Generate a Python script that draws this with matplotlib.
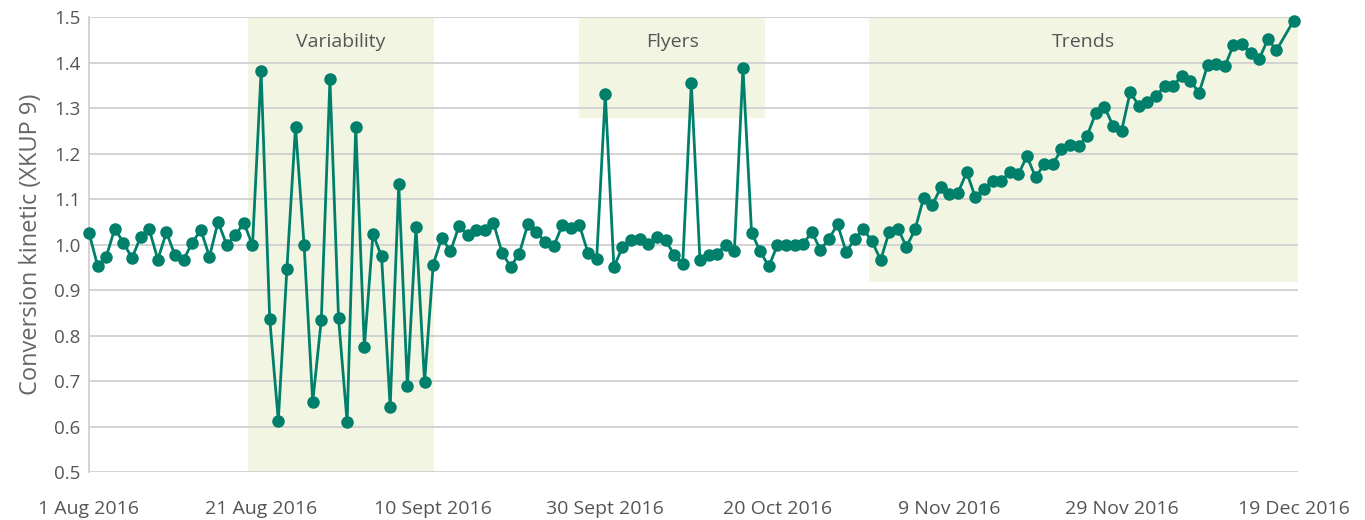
import numpy as np
import pandas as pd
import matplotlib
matplotlib.use("Agg")
import matplotlib.pyplot as plt

plt.rcParams["font.family"] = ["Open Sans", "DejaVu Sans"]

# daily readings, 1 Aug - 17 Dec 2016, plus 19 Dec (18 Dec missing)
dates = list(pd.date_range("2016-08-01", "2016-12-17", freq="D")) + [pd.Timestamp("2016-12-19")]

values = [
    # 1 - 20 Aug
    1.026, 0.953, 0.973, 1.035, 1.004, 0.970, 1.017, 1.033, 0.967, 1.027,
    0.976, 0.967, 1.004, 1.032, 0.973, 1.050, 0.999, 1.020, 1.048, 0.998,
    # 21 Aug - 10 Sept
    1.381, 0.837, 0.613, 0.947, 1.259, 0.998, 0.654, 0.835, 1.363, 0.838,
    0.609, 1.259, 0.774, 1.023, 0.974, 0.643, 1.132, 0.689, 1.038, 0.697, 0.956,
    # 11 - 29 Sept
    1.015, 0.985, 1.040, 1.020, 1.031, 1.031, 1.048, 0.982, 0.951, 0.980,
    1.044, 1.027, 1.006, 0.996, 1.042, 1.037, 1.042, 0.981, 0.969,
    # 30 Sept - 20 Oct
    1.331, 0.950, 0.995, 1.009, 1.012, 1.001, 1.017, 1.009, 0.978, 0.958,
    1.354, 0.966, 0.978, 0.979, 1.000, 0.985, 1.388, 1.026, 0.985, 0.952, 0.998,
    # 21 - 31 Oct
    1.000, 0.998, 1.001, 1.028, 0.988, 1.013, 1.044, 0.983, 1.013, 1.033, 1.007,
    # 1 - 24 Nov
    0.966, 1.028, 1.035, 0.995, 1.033, 1.103, 1.086, 1.126, 1.110, 1.114,
    1.159, 1.104, 1.123, 1.140, 1.140, 1.159, 1.154, 1.194, 1.148, 1.176,
    1.176, 1.209, 1.218, 1.216,
    # 25 Nov - 17 Dec
    1.239, 1.289, 1.303, 1.261, 1.250, 1.335, 1.305, 1.313, 1.326, 1.348,
    1.349, 1.371, 1.360, 1.333, 1.394, 1.397, 1.392, 1.438, 1.440, 1.420,
    1.408, 1.451, 1.427,
    # 19 Dec
    1.492,
]

tick_dates = pd.date_range("2016-08-01", periods=8, freq="20D")
tick_labels = ["1 Aug 2016", "21 Aug 2016", "10 Sept 2016", "30 Sept 2016",
               "20 Oct 2016", "9 Nov 2016", "29 Nov 2016", "19 Dec 2016"]

# highlighted regions: label, start, end, lower value
region_labels = ["Variability", "Flyers", "Trends"]
region_start = ["2016-08-19 12:00", "2016-09-27 00:00", "2016-10-30 15:30"]
region_end = ["2016-09-10 02:30", "2016-10-18 14:30", "2016-12-19 12:00"]
region_low = [0.5, 1.278, 0.918]

LINE_COLOR = "#007f6b"
SHADE_COLOR = "#f3f5e3"
GRID_COLOR = "#d0d0d0"
TEXT_COLOR = "#555555"

fig = plt.figure(figsize=(13.65, 5.2), dpi=100)
ax = fig.add_axes([0.0652, 0.0923, 0.8857, 0.8750])

for label, s, e, low in zip(region_labels, region_start, region_end, region_low):
    s, e = pd.Timestamp(s), pd.Timestamp(e)
    ax.fill_between([s, e], [low, low], [1.5, 1.5], color=SHADE_COLOR, lw=0, zorder=0)
    ax.text(s + (e - s) / 2, 1.446, label, ha="center", va="center",
            fontsize=14, color=TEXT_COLOR, zorder=3)

ax.plot(dates, values, color=LINE_COLOR, lw=2, marker="o", markersize=8,
        zorder=4, clip_on=False)

ax.set_ylim(0.5, 1.5)
ax.set_xlim(pd.Timestamp("2016-08-01"), pd.Timestamp("2016-12-19 12:00"))
ax.set_yticks(np.arange(0.5, 1.51, 0.1))
ax.set_yticklabels([f"{v:.1f}" for v in np.arange(0.5, 1.51, 0.1)])
ax.set_xticks(tick_dates)
ax.set_xticklabels(tick_labels)

for v in np.arange(0.5, 1.51, 0.1):
    ax.axhline(v, color=GRID_COLOR, lw=1.3, zorder=1)

for side in ["top", "right", "bottom"]:
    ax.spines[side].set_visible(False)
ax.spines["left"].set_color(GRID_COLOR)
ax.spines["left"].set_linewidth(1.3)

ax.tick_params(axis="both", length=0, colors=TEXT_COLOR)
ax.tick_params(axis="x", pad=20, labelsize=14)
ax.tick_params(axis="y", pad=6, labelsize=13.5)
ax.set_ylabel("Conversion kinetic (XKUP 9)", fontsize=17, color="#666666", labelpad=8)

fig.savefig("out.png", dpi=100)
